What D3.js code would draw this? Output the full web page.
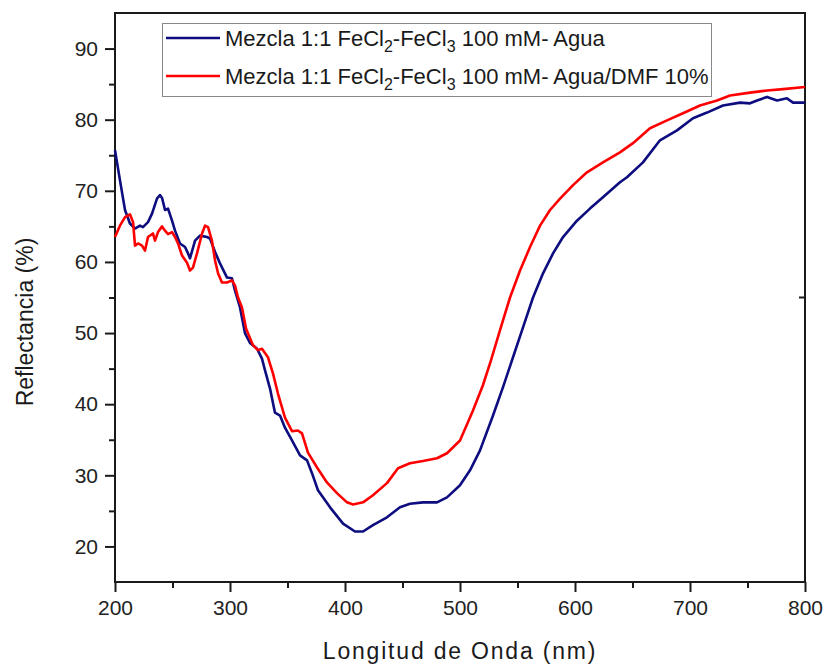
<!DOCTYPE html>
<html>
<head>
<meta charset="utf-8">
<script src="https://cdn.jsdelivr.net/npm/d3@7"></script>
<style>
  html, body { margin: 0; padding: 0; background: #fff; }
  svg { display: block; font-family: Arial, "Liberation Sans", Helvetica, sans-serif; }
</style>
</head>
<body>
<svg id="chart" width="825" height="667"></svg>
<script>
// Reflectance spectra (wavelength in nm, reflectance in %)
const aguaWavelength = [200, 204.3, 208.7, 213, 217.4, 221.7, 224.3, 228.7, 232.2, 236.5, 239.1, 240.9, 243.5, 246.1, 249.6, 252.2, 256.5, 260.9, 263.5, 265.2, 269.6, 273.9, 280, 282.6, 287, 291.3, 297.4, 301.7, 304.3, 308.7, 313, 317.4, 323.5, 327.8, 330.4, 334.8, 339.1, 343.5, 347.8, 353.9, 360.9, 367, 371.3, 376.5, 387, 398.3, 408.7, 415.7, 424.3, 436.5, 447.8, 456.5, 467.8, 480, 488.7, 500, 508.7, 517.4, 528.7, 537.4, 546.1, 554.8, 563.5, 572.2, 580.9, 589.6, 601.7, 613, 624.3, 639.1, 645.2, 659.1, 673.9, 688.7, 702.6, 714.8, 728.7, 743.5, 752.2, 758.3, 767, 775.7, 784.3, 789.6, 800];
const aguaReflectance = [75.7, 71.5, 67.3, 65.4, 64.7, 65.1, 64.9, 65.6, 66.8, 68.9, 69.4, 69.0, 67.3, 67.5, 65.8, 64.4, 62.6, 62.1, 61.2, 60.5, 63.0, 63.7, 63.5, 63.3, 61.4, 59.8, 57.8, 57.7, 56.0, 53.6, 50.0, 48.6, 47.8, 46.4, 44.8, 42.2, 38.8, 38.4, 36.7, 34.9, 32.8, 32.1, 30.3, 27.9, 25.5, 23.2, 22.1, 22.1, 23.0, 24.1, 25.5, 26.0, 26.2, 26.2, 26.9, 28.6, 30.7, 33.5, 38.4, 42.4, 46.6, 50.8, 55.0, 58.4, 61.2, 63.5, 65.8, 67.5, 69.1, 71.2, 71.9, 74.0, 77.1, 78.5, 80.2, 81.0, 82.0, 82.4, 82.3, 82.7, 83.2, 82.7, 83.0, 82.4, 82.4];

const dmfWavelength = [200, 204.3, 208.7, 213, 215.7, 217.4, 220, 223.5, 226.1, 228.7, 233, 234.8, 237.4, 240.9, 243.5, 246.1, 249.6, 252.2, 254.8, 258.3, 262.6, 265.2, 267.8, 271.3, 275.7, 278.3, 280.9, 284.3, 287, 289.6, 293, 297.4, 301.7, 304.3, 307, 310.4, 314, 320, 324.3, 327.8, 333, 337.4, 341.7, 347.8, 353.9, 359.1, 362.6, 367.8, 375.7, 384.3, 393, 401.7, 407, 415.7, 424.3, 436.5, 446.1, 456.5, 467.8, 480, 488.7, 500, 511.3, 520, 527, 534.8, 543.5, 552.2, 560.9, 569.6, 578.3, 587, 598.3, 610.4, 624.3, 639.1, 650.4, 665.2, 680, 693.9, 708.7, 723.5, 734.8, 752.2, 767, 780.9, 800];
const dmfReflectance = [63.5, 65.1, 66.3, 66.7, 65.6, 62.3, 62.6, 62.3, 61.6, 63.5, 64.0, 63.0, 64.2, 65.0, 64.4, 63.9, 64.2, 63.5, 62.6, 60.9, 59.9, 58.8, 59.2, 61.2, 64.0, 65.1, 64.9, 63.0, 60.2, 58.4, 57.1, 57.1, 57.4, 56.7, 55.0, 53.6, 50.6, 48.3, 47.6, 47.8, 46.6, 44.3, 41.5, 38.1, 36.2, 36.3, 35.9, 33.2, 31.1, 29.0, 27.5, 26.2, 25.9, 26.2, 27.2, 28.9, 31.0, 31.7, 32.0, 32.4, 33.1, 34.9, 39.1, 42.7, 46.2, 50.4, 55.0, 58.8, 62.1, 65.1, 67.3, 68.9, 70.8, 72.6, 74.0, 75.4, 76.7, 78.8, 79.9, 80.9, 82.0, 82.7, 83.4, 83.8, 84.1, 84.3, 84.6];

const xMajorTicks = [200, 300, 400, 500, 600, 700, 800];
const yMajorTicks = [20, 30, 40, 50, 60, 70, 80, 90];

const seriesNames = ["Agua", "Agua/DMF 10%"];
const seriesColors = ["#0d0d80", "#ff0000"];

const svg = d3.select("#chart");
const plotLeft = 115, plotRight = 805, plotTop = 13, plotBottom = 582;

const x = d3.scaleLinear().domain([200, 800]).range([plotLeft, plotRight]);
const y = d3.scaleLinear().domain([15, 95]).range([plotBottom, plotTop]);

const axisColor = "#1a1a1a";
const minorX = d3.range(250, 800, 100);
const minorY = d3.range(25, 95, 10);

// bottom axis
const gx = svg.append("g").attr("transform", `translate(0,${plotBottom})`);
gx.call(d3.axisBottom(x).tickValues(xMajorTicks).tickSize(10).tickPadding(8).tickFormat(d3.format("d")));
const gxMinor = svg.append("g").attr("transform", `translate(0,${plotBottom})`);
gxMinor.call(d3.axisBottom(x).tickValues(minorX).tickSize(6).tickFormat(""));

// left axis
const gy = svg.append("g").attr("transform", `translate(${plotLeft},0)`);
gy.call(d3.axisLeft(y).tickValues(yMajorTicks).tickSize(10).tickPadding(7).tickFormat(d3.format("d")));
const gyMinor = svg.append("g").attr("transform", `translate(${plotLeft},0)`);
gyMinor.call(d3.axisLeft(y).tickValues(minorY).tickSize(6).tickFormat(""));

[gx, gxMinor, gy, gyMinor].forEach(g => {
  g.select(".domain").remove();
  g.selectAll(".tick line").attr("stroke", axisColor).attr("stroke-width", 2);
  g.selectAll(".tick text").attr("fill", "#222").style("font-size", "21px");
});

// frame
svg.append("rect")
  .attr("x", plotLeft).attr("y", plotTop)
  .attr("width", plotRight - plotLeft).attr("height", plotBottom - plotTop)
  .attr("fill", "none").attr("stroke", axisColor).attr("stroke-width", 2);

// small tick on the right edge
svg.append("line")
  .attr("x1", plotRight - 6).attr("x2", plotRight)
  .attr("y1", y(55)).attr("y2", y(55))
  .attr("stroke", axisColor).attr("stroke-width", 2);

// spectra
const line = d3.line().x(d => x(d[0])).y(d => y(d[1])).curve(d3.curveLinear);
const aguaData = aguaWavelength.map((w, i) => [w, aguaReflectance[i]]);
const dmfData = dmfWavelength.map((w, i) => [w, dmfReflectance[i]]);

svg.append("path").datum(aguaData)
  .attr("d", line).attr("fill", "none")
  .attr("stroke", seriesColors[0]).attr("stroke-width", 2.6).attr("stroke-linejoin", "round");
svg.append("path").datum(dmfData)
  .attr("d", line).attr("fill", "none")
  .attr("stroke", seriesColors[1]).attr("stroke-width", 2.6).attr("stroke-linejoin", "round");

// legend
const legend = svg.append("g");
legend.append("rect")
  .attr("x", 162.5).attr("y", 23.5).attr("width", 549).attr("height", 73)
  .attr("fill", "#fff").attr("stroke", "#888").attr("stroke-width", 1);

seriesNames.forEach((name, i) => {
  const cy = 38 + i * 38;
  legend.append("line")
    .attr("x1", 166).attr("x2", 220).attr("y1", cy).attr("y2", cy)
    .attr("stroke", seriesColors[i]).attr("stroke-width", 2.6);
  const t = legend.append("text")
    .attr("x", 225).attr("y", cy + 8)
    .attr("fill", "#1a1a1a").style("font-size", "22px");
  t.append("tspan").text("Mezcla 1:1 FeCl");
  t.append("tspan").attr("dy", 6).style("font-size", "16px").text("2");
  t.append("tspan").attr("dy", -6).text("-FeCl");
  t.append("tspan").attr("dy", 6).style("font-size", "16px").text("3");
  t.append("tspan").attr("dy", -6).text(" 100 mM- " + name);
});

// axis titles
svg.append("text")
  .attr("x", 460).attr("y", 659)
  .attr("text-anchor", "middle")
  .attr("fill", "#1a1a1a")
  .style("font-size", "23px")
  .style("letter-spacing", "1.8px")
  .text("Longitud de Onda (nm)");

svg.append("text")
  .attr("transform", "translate(33,322) rotate(-90)")
  .attr("text-anchor", "middle")
  .attr("fill", "#1a1a1a")
  .style("font-size", "23px")
  .text("Reflectancia (%)");
</script>
</body>
</html>
